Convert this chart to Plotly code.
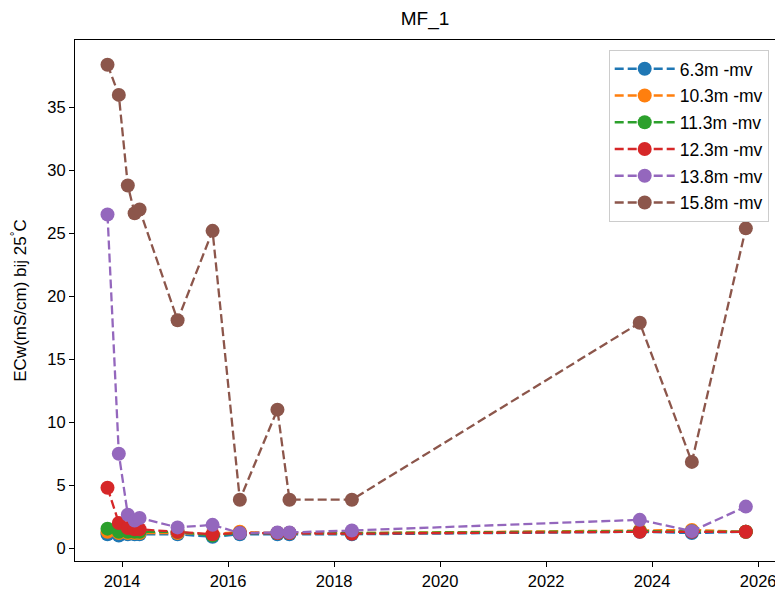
import plotly.graph_objects as go

dates = ["2013-09-22", "2013-12-09", "2014-02-09", "2014-03-28", "2014-05-01",
         "2015-01-18", "2015-09-16", "2016-03-22", "2016-12-06", "2017-02-27",
         "2018-05-03", "2023-10-08", "2024-10-01", "2025-10-08"]

names = ["6.3m -mv", "10.3m -mv", "11.3m -mv", "12.3m -mv", "13.8m -mv", "15.8m -mv"]

s_6_3 = [1.1, 1.0, 1.1, 1.1, 1.1, 1.1, 0.9, 1.1, 1.1, 1.1, 1.1, 1.3, 1.2, 1.3]
s_10_3 = [1.3, 1.2, 1.2, 1.2, 1.2, 1.2, 1.1, 1.3, 1.2, 1.2, 1.2, 1.4, 1.45, 1.3]
s_11_3 = [1.55, 1.3, 1.3, 1.3, 1.3, 1.3, 1.0, 1.2, 1.2, 1.2, 1.2, 1.35, 1.35, 1.3]
s_12_3 = [4.8, 2.0, 1.6, 1.5, 1.5, 1.3, 1.1, 1.2, 1.2, 1.2, 1.15, 1.3, 1.3, 1.3]
s_13_8 = [26.5, 7.5, 2.65, 2.2, 2.4, 1.65, 1.85, 1.2, 1.25, 1.25, 1.4, 2.25, 1.35, 3.3]
s_15_8 = [38.4, 36.0, 28.8, 26.6, 26.9, 18.1, 25.2, 3.85, 11.0, 3.85, 3.85, 17.9, 6.85, 25.4]

series = [s_6_3, s_10_3, s_11_3, s_12_3, s_13_8, s_15_8]
colors = ["#1f77b4", "#ff7f0e", "#2ca02c", "#d62728", "#9467bd", "#8c564b"]

tick_years = [2014, 2016, 2018, 2020, 2022, 2024, 2026]

fig = go.Figure()
for i, (name, vals, col) in enumerate(zip(names, series, colors)):
    fig.add_trace(go.Scatter(
        x=dates, y=vals, name=name, mode="lines+markers",
        legendgroup=f"g{i}",
        line=dict(color=col, width=2.3, dash="9px,4px"),
        marker=dict(color=col, size=14),
    ))

font_family = "Liberation Sans, Arial, sans-serif"
# page body has an 8px margin, so the figure is drawn 8px lower and to the right
fig.update_layout(
    width=775, height=589,
    margin=dict(l=67, r=7, t=32, b=32),
    paper_bgcolor="white", plot_bgcolor="white",
    font=dict(family=font_family, size=16.5, color="black"),
    title=dict(text="MF_1", x=0.5, xref="paper", xanchor="center", y=0.983, yanchor="middle",
               font=dict(size=19, family=font_family, color="black")),
    showlegend=True,
    legend=dict(x=0.991, y=0.981, xanchor="right", yanchor="top",
                bgcolor="white", bordercolor="#cccccc", borderwidth=1,
                font=dict(size=17.5, family=font_family), tracegroupgap=1,
                itemwidth=60),
)
fig.update_xaxes(
    type="date",
    range=["2013-02-10", "2026-04-27"],
    tickvals=[f"{y}-01-01" for y in tick_years],
    ticktext=[str(y) for y in tick_years],
    showgrid=False, zeroline=False,
    showline=True, linecolor="black", linewidth=1, mirror=True,
    ticks="outside", ticklen=5, tickcolor="black",
    tickfont=dict(size=16.5),
)
fig.update_yaxes(
    range=[-1.02, 40.36],
    tickvals=[0, 5, 10, 15, 20, 25, 30, 35],
    showgrid=False, zeroline=False,
    showline=True, linecolor="black", linewidth=1, mirror=True,
    ticks="outside", ticklen=5, tickcolor="black",
    tickfont=dict(size=16.5),
    title=dict(text="ECw(mS/cm) bij 25<sup>°</sup>C", font=dict(size=17), standoff=17),
)

fig.write_html("out.html")
